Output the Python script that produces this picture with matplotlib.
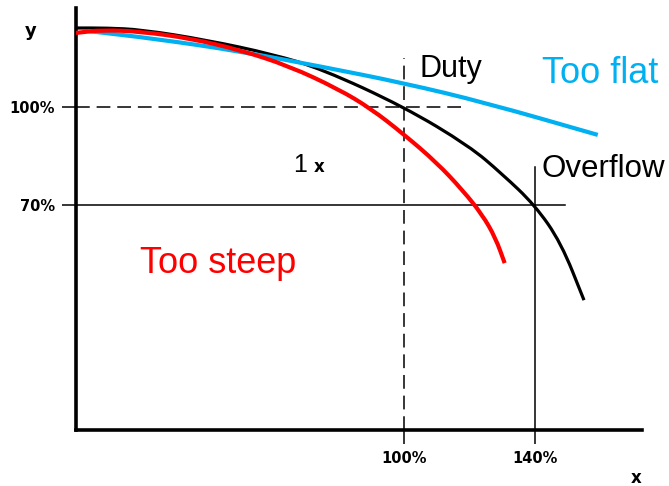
import matplotlib.pyplot as plt
from matplotlib.path import Path
from matplotlib.patches import PathPatch

# curves (x %, y %)
duty_x = [0, 9.3, 20, 40, 60, 75, 100, 120, 130, 140, 148, 155]
duty_y = [124.0, 124.0, 123.5, 120.3, 116.0, 111.5, 100, 88.0, 79.5, 70, 58.5, 41.0]

steep_x = [0, 8, 20, 35, 50, 65, 80, 90, 100, 110, 118, 124, 128, 130.8]
steep_y = [122.5, 123.4, 122.9, 120.8, 117.3, 112.4, 105.4, 99.4, 91.6, 83.0, 74.5, 67.0, 60.0, 52.3]

flat_x = [3.5, 25, 50, 75, 100, 125, 159.2]
flat_y = [123.1, 120.6, 116.9, 112.2, 107.2, 101.2, 91.4]

xticks = [100, 140]
xlabels = ["100%", "140%"]
yticks = [70, 100]
ylabels = ["70%", "100%"]

tick_font = "DejaVu Sans"


def smooth_path(xs, ys):
    # quadratic bezier through the midpoints, read points used as control points
    pts = list(zip(xs, ys))
    verts = [pts[0], ((pts[0][0] + pts[1][0]) / 2, (pts[0][1] + pts[1][1]) / 2)]
    codes = [Path.MOVETO, Path.LINETO]
    for i in range(1, len(pts) - 1):
        mid = ((pts[i][0] + pts[i + 1][0]) / 2, (pts[i][1] + pts[i + 1][1]) / 2)
        verts += [pts[i], mid]
        codes += [Path.CURVE3, Path.CURVE3]
    verts.append(pts[-1])
    codes.append(Path.LINETO)
    return Path(verts, codes)


fig = plt.figure(figsize=(6.69, 4.86), dpi=100)
ax = fig.add_axes([76 / 669, 1 - 430 / 486, (642 - 76) / 669, (430 - 8) / 486])
ax.set_xlim(0, 172.7)
ax.set_ylim(1.4, 130.1)

# guide lines
ax.plot([0, 118], [100, 100], color="black", lw=1.1, dashes=(9, 4.5), zorder=1)
ax.plot([100, 100], [1.4, 114.9], color="black", lw=1.1, dashes=(9, 4.5), zorder=1)
ax.plot([0, 149.3], [70, 70], color="black", lw=1.1, zorder=1)
ax.plot([140, 140], [1.4, 81.6], color="black", lw=1.1, zorder=1)

# curves
ax.add_patch(PathPatch(smooth_path(duty_x, duty_y), fill=False, edgecolor="black", lw=2.3, capstyle="butt", zorder=2))
ax.add_patch(PathPatch(smooth_path(flat_x, flat_y), fill=False, edgecolor="#00B0F0", lw=3.0, capstyle="butt", zorder=3))
ax.add_patch(PathPatch(smooth_path(steep_x, steep_y), fill=False, edgecolor="#FF0000", lw=3.0, capstyle="butt", zorder=4))

for s in ["top", "right"]:
    ax.spines[s].set_visible(False)
ax.spines["left"].set_linewidth(2.6)
ax.spines["bottom"].set_linewidth(2.6)

ax.set_xticks(xticks)
ax.set_xticklabels(xlabels)
ax.set_yticks(yticks)
ax.set_yticklabels(ylabels)
ax.tick_params(direction="out", length=10, width=1.1, pad=5)
for lab in ax.get_xticklabels() + ax.get_yticklabels():
    lab.set_family(tick_font)
    lab.set_weight("bold")
    lab.set_fontsize(10.5)

# annotations
ax.text(104.9, 109.1, "Duty", fontsize=22, family="Liberation Sans", va="baseline")
ax.text(142.1, 107.2, "Too flat", fontsize=26, color="#00B0F0", family="Liberation Sans", va="baseline")
ax.text(142.1, 78.6, "Overflow", fontsize=22.5, family="Liberation Sans", va="baseline")
ax.text(19.4, 49.3, "Too steep", fontsize=26, color="#FF0000", family="Liberation Sans", va="baseline")
ax.text(66.1, 80.1, "1", fontsize=18, family="Liberation Sans", va="baseline")
ax.text(72.5, 80.1, "x", fontsize=12, weight="bold", family=tick_font, va="baseline")

fig.text(31 / 669, 1 - 31 / 486, "y", fontsize=13, weight="bold", family=tick_font, ha="center", va="center")
fig.text(636 / 669, 1 - 478 / 486, "x", fontsize=12, weight="bold", family=tick_font, ha="center", va="center")

fig.savefig("out.png", dpi=100)
